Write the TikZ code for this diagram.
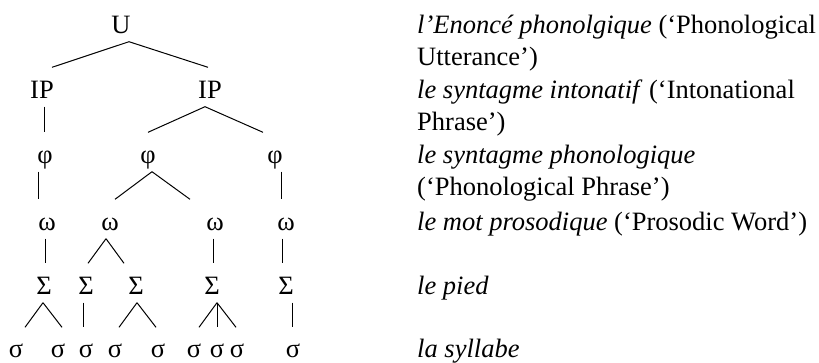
\documentclass[tikz,border=0pt]{standalone}
\usepackage{fontspec}
\setmainfont{Liberation Serif}
\begin{document}
\begin{tikzpicture}[x=1pt,y=-1pt,
  every node/.style={font=\fontsize{26.5}{32}\selectfont},
  lv/.style={anchor=base,inner sep=0pt,text height=30.5pt,text depth=8.5pt},
  lf/.style={lv,text height=29.5pt,text depth=0pt},
  gl/.style={anchor=base west,inner sep=0pt},
  br/.style={line width=1pt,black}]
\useasboundingbox (0,0) rectangle (819,362);
% tree labels
\node[lv] (U)   at (121,33) {U};
\node[lv] (IPa) at (42,98) {IP};
\node[lv] (IPb) at (210,98) {IP};
\node[lv] (pa)  at (45,163) {φ};
\node[lv] (pb)  at (148,163) {φ};
\node[lv] (pc)  at (275,163) {φ};
\node[lv] (wa)  at (47,230) {ω};
\node[lv] (wb)  at (110,230) {ω};
\node[lv] (wc)  at (215,230) {ω};
\node[lv] (wd)  at (286,230) {ω};
\node[lv] (Sa)  at (44,294) {Σ};
\node[lv] (Sb)  at (86,294) {Σ};
\node[lv] (Sc)  at (136,294) {Σ};
\node[lv] (Sd)  at (212,294) {Σ};
\node[lv] (Se)  at (286,294) {Σ};
\node[lf] (s1)  at (16,357) {σ};
\node[lf] (s2)  at (58,357) {σ};
\node[lf] (s3)  at (86,357) {σ};
\node[lf] (s4)  at (115,357) {σ};
\node[lf] (s5)  at (158,357) {σ};
\node[lf] (s6)  at (194,357) {σ};
\node[lf] (s7)  at (217,357) {σ};
\node[lf] (s8)  at (237,357) {σ};
\node[lf] (s9)  at (293,357) {σ};
% branches
\draw[br] ([xshift=8pt]U.south) -- ([xshift=10pt]IPa.north);
\draw[br] ([xshift=8pt]U.south) -- ([xshift=-2pt]IPb.north);
\draw[br] ([xshift=2pt]IPa.south) -- ([xshift=-1pt]pa.north);
\draw[br] ([xshift=-5pt]IPb.south) -- (pb.north);
\draw[br] ([xshift=-5pt]IPb.south) -- ([xshift=-12pt]pc.north);
\draw[br] ([xshift=-7pt]pa.south) -- ([xshift=-9pt]wa.north);
\draw[br] ([xshift=4pt]pb.south) -- ([xshift=5pt]wb.north);
\draw[br] ([xshift=4pt]pb.south) -- ([xshift=-25pt]wc.north);
\draw[br] ([xshift=6pt]pc.south) -- ([xshift=-5pt]wd.north);
\draw[br] ([xshift=-2pt]wa.south) -- ([xshift=1pt]Sa.north);
\draw[br] ([xshift=-4pt]wb.south) -- ([xshift=2pt]Sb.north);
\draw[br] ([xshift=-4pt]wb.south) -- ([xshift=-12pt]Sc.north);
\draw[br] ([xshift=-2pt]wc.south) -- ([xshift=1pt]Sd.north);
\draw[br] ([xshift=-4pt]wd.south) -- ([xshift=-4pt]Se.north);
\draw[br] ([xshift=-1pt]Sa.south) -- ([xshift=9pt]s1.north);
\draw[br] ([xshift=-1pt]Sa.south) -- ([xshift=4pt]s2.north);
\draw[br] ([xshift=-3pt]Sb.south) -- ([xshift=-3pt]s3.north);
\draw[br] ([xshift=1pt]Sc.south) -- ([xshift=4pt]s4.north);
\draw[br] ([xshift=1pt]Sc.south) -- ([xshift=-2pt]s5.north);
\draw[br] ([xshift=5pt]Sd.south) -- ([xshift=5pt]s6.north);
\draw[br] ([xshift=5pt]Sd.south) -- (s7.north);
\draw[br] ([xshift=5pt]Sd.south) -- ([xshift=-1pt]s8.north);
\draw[br] ([xshift=6pt]Se.south) -- ([xshift=-1pt]s9.north);
% glosses
\node[gl] (ta) at (417,33)  {\textit{l’Enoncé phonolgique} (‘Phonological};
\node[gl] (tb) at (417,65)  {Utterance’)};
\node[gl] (tc) at (417,98)  {\textit{le syntagme intonatif} (‘Intonational};
\node[gl] (td) at (417,130) {Phrase’)};
\node[gl] (te) at (417,163) {\textit{le syntagme phonologique}};
\node[gl] (tf) at (417,195) {(‘Phonological Phrase’)};
\node[gl] (tg) at (417,230) {\textit{le mot prosodique} (‘Prosodic Word’)};
\node[gl] (th) at (417,294) {\textit{le pied}};
\node[gl] (ti) at (417,357) {\textit{la syllabe}};
\end{tikzpicture}
\end{document}
